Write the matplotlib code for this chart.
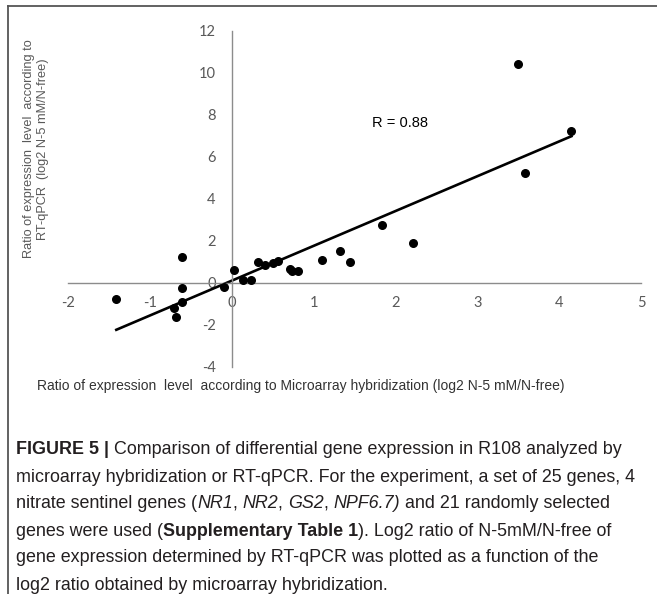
import numpy as np
import matplotlib
matplotlib.use("Agg")
import matplotlib.pyplot as plt
from matplotlib.lines import Line2D

plt.rcParams["axes.unicode_minus"] = False

# ---- data ----
microarray = [-1.41, -0.61, -0.61, -0.61, -0.70, -0.68, -0.10, 0.03, 0.14, 0.24,
              0.32, 0.41, 0.50, 0.56, 0.71, 0.74, 0.81, 1.10, 1.32, 1.44,
              1.83, 2.22, 3.50, 3.58, 4.15]
rtqpcr = [-0.78, 1.22, -0.25, -0.90, -1.21, -1.63, -0.19, 0.60, 0.16, 0.16,
          1.00, 0.86, 0.97, 1.05, 0.68, 0.59, 0.56, 1.10, 1.51, 1.01,
          2.76, 1.89, 10.41, 5.25, 7.22]
x_ticks = [-2, -1, 0, 1, 2, 3, 4, 5]
y_ticks = [-4, -2, 0, 2, 4, 6, 8, 10, 12]
r_label = "R = 0.88"

W, H = 657, 594
fig = plt.figure(figsize=(W / 100, H / 100), dpi=100)
fig.patch.set_facecolor("white")

def fx(px):
    return px / W

def fy(py):
    return 1 - py / H

ax = fig.add_axes([fx(68), fy(367), fx(641) - fx(68), fy(31) - fy(367)])
ax.set_xlim(-2, 5)
ax.set_ylim(-4, 12)
for s in ["top", "right"]:
    ax.spines[s].set_visible(False)
for s in ["left", "bottom"]:
    ax.spines[s].set_position(("data", 0))
    ax.spines[s].set_color("#8c8c8c")
    ax.spines[s].set_linewidth(1.0)
ax.set_xticks(x_ticks)
ax.set_yticks(y_ticks)
ax.tick_params(axis="both", length=0, labelsize=10.5, labelcolor="#595959")
ax.tick_params(axis="x", pad=9.5)
ax.tick_params(axis="y", pad=11.5)
for lab in ax.get_xticklabels() + ax.get_yticklabels():
    lab.set_fontfamily(["Lato", "DejaVu Sans"])
ax.patch.set_alpha(0)

xa = np.array(microarray)
ya = np.array(rtqpcr)
ax.scatter(xa, ya, s=30, color="black", zorder=3, clip_on=False)
k, b = np.polyfit(xa, ya, 1)
xl = np.array([xa.min(), xa.max()])
ax.plot(xl, k * xl + b, color="black", lw=1.9, zorder=2, clip_on=False)
ax.text(2.05, 7.6, r_label, ha="center", va="center", fontsize=10.5,
        family="Liberation Sans", color="black")

# axis titles
fig.text(fx(36), fy(149), "Ratio of expression  level  according to\nRT-qPCR  (log2 N-5 mM/N-free)",
         rotation=90, ha="center", va="center", multialignment="center",
         fontsize=9.2, family="Liberation Sans", color="#595959", linespacing=1.15)
fig.text(fx(37), fy(386), "Ratio of expression  level  according to Microarray hybridization (log2 N-5 mM/N-free)",
         ha="left", va="center", fontsize=10,
         family=["Liberation Sans Narrow", "Liberation Sans"], color="#333333")

# frame lines
fig.add_artist(Line2D([fx(8), fx(8)], [0, fy(6)], transform=fig.transFigure, color="#555555", lw=1.3))
fig.add_artist(Line2D([fx(8), 1], [fy(6), fy(6)], transform=fig.transFigure, color="#555555", lw=1.3))

# caption with mixed styles
renderer = fig.canvas.get_renderer()
cap_size = 12.9
cap_color = "#231f20"

def adv(s, weight, style):
    t1 = fig.text(0, 0, s + "x", fontsize=cap_size, family="Liberation Sans", weight=weight, style=style)
    t2 = fig.text(0, 0, "x", fontsize=cap_size, family="Liberation Sans", weight=weight, style=style)
    w = t1.get_window_extent(renderer).width - t2.get_window_extent(renderer).width
    t1.remove()
    t2.remove()
    return w

N, B, I = ("normal", "normal"), ("bold", "normal"), ("normal", "italic")
caption = [
    [("FIGURE 5 |", B), (" Comparison of differential gene expression in R108 analyzed by", N)],
    [("microarray hybridization or RT-qPCR. For the experiment, a set of 25 genes, 4", N)],
    [("nitrate sentinel genes (", N), ("NR1", I), (", ", N), ("NR2", I), (", ", N), ("GS2", I),
     (", ", N), ("NPF6.7)", I), (" and 21 randomly selected", N)],
    [("genes were used (", N), ("Supplementary Table 1", B), ("). Log2 ratio of N-5mM/N-free of", N)],
    [("gene expression determined by RT-qPCR was plotted as a function of the", N)],
    [("log2 ratio obtained by microarray hybridization.", N)],
]
y0, dy = 450, 27
for i, line in enumerate(caption):
    xp = 16
    for seg, (wt, st) in line:
        fig.text(fx(xp), fy(y0 + i * dy), seg, ha="left", va="center", fontsize=cap_size,
                 family="Liberation Sans", weight=wt, style=st, color=cap_color)
        xp += adv(seg, wt, st)

fig.savefig("out.png", dpi=100)
